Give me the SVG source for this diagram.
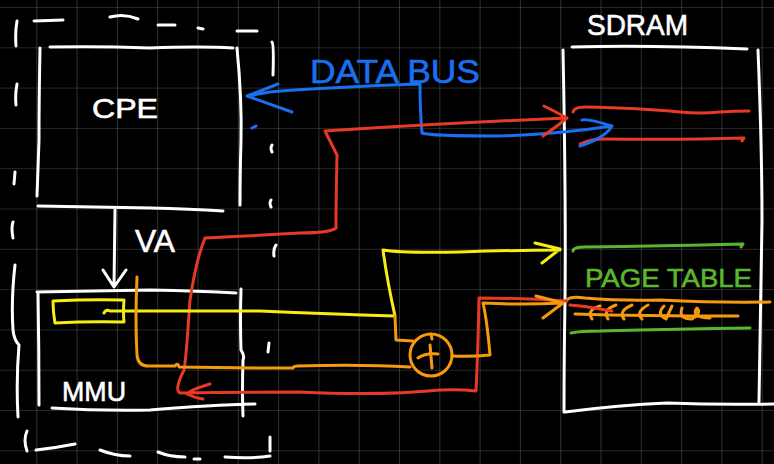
<svg xmlns="http://www.w3.org/2000/svg" width="774" height="464" viewBox="0 0 774 464">
<style>
.w{fill:none;stroke:#ffffff;stroke-width:3;stroke-linecap:round;stroke-linejoin:round}
.b{fill:none;stroke:#1a6ff0;stroke-width:3;stroke-linecap:round;stroke-linejoin:round}
.r{fill:none;stroke:#e63a26;stroke-width:3;stroke-linecap:round;stroke-linejoin:round}
.y{fill:none;stroke:#f7ec14;stroke-width:3;stroke-linecap:round;stroke-linejoin:round}
.o{fill:none;stroke:#f59a0c;stroke-width:3;stroke-linecap:round;stroke-linejoin:round}
.g{fill:none;stroke:#5cb530;stroke-width:3;stroke-linecap:round;stroke-linejoin:round}
.t{font-family:"Liberation Sans",Arial,sans-serif;font-weight:normal;stroke-width:0.6}
</style>
<defs>
<pattern id="grid" patternUnits="userSpaceOnUse" x="36.3" y="7" width="40.3" height="40.3">
<path d="M0 0H40.3M0 0V40.3" stroke="#505050" stroke-width="1.2" fill="none"/>
</pattern>
</defs>
<rect width="774" height="464" fill="#000000"/>
<rect width="774" height="464" fill="url(#grid)"/>

<g id="outer-bracket">
<path class="w" d="M17 21Q15 32 16 46M34 21L63 20M110 17Q124 13 138 19M158 25L175 25M198 28L203 29M237 31L257 31M272 42Q274 44 273 75M17 84Q15 94 16 105M15 172L14 184M13 222Q11 228 13 238M15 265Q11 300 13 330Q14 340 19 345Q16 380 18 417M27 431Q23 440 27 451M36 450Q55 448 75 444M100 450Q115 456 130 456M158 452Q170 457 185 457M194 459L200 459M225 457Q250 459 270 456M270 437L270 451M272 145Q270 148 272 152M271 200Q269 203 271 207M276 245Q273 249 274 256M269 343L268 352"/>
</g>

<g id="cpe">
<path class="w" d="M40 48Q39 100 39 140Q38 170 37 196M50 47Q100 46 150 48Q200 46 233 48M237 48Q242 100 241 140Q240 175 240 205M38 206Q100 207 150 208Q190 209 223 211"/>
<text class="t" x="92" y="118" font-size="28" fill="#ffffff" stroke="#ffffff" textLength="66" lengthAdjust="spacingAndGlyphs">CPE</text>
</g>

<g id="mmu">
<path class="w" d="M37 292Q100 291 150 290Q200 291 236 293M38 293Q39 350 39 405M241 289Q240 320 241 350Q245 356 243 360Q242 390 243 416M52 408Q100 411 150 410Q210 405 255 404"/>
<text class="t" x="62" y="401" font-size="28" fill="#ffffff" stroke="#ffffff" textLength="64" lengthAdjust="spacingAndGlyphs">MMU</text>
</g>

<g id="sdram">
<path class="w" d="M572 47Q650 45 747 49M563 50Q566 200 565 300Q564 360 564 412M758 50Q762 150 762 220Q760 320 759 402M565 412Q620 405 667 403Q720 405 774 404"/>
<text class="t" x="587" y="35" font-size="30" fill="#ffffff" stroke="#ffffff" textLength="101" lengthAdjust="spacingAndGlyphs">SDRAM</text>
<path class="r" d="M573 112Q574 107 585 107Q640 108 680 112Q700 114 720 112Q735 111 749 111M580 144Q590 139 605 139Q680 140 744 138L742 141"/>
<path class="g" d="M573 251Q573 247 585 247Q660 246 743 244L741 247M571 333Q580 331 600 331Q680 329 750 328"/>
<text class="t" x="585" y="287" font-size="26" fill="#5cb530" stroke="#5cb530" textLength="167" lengthAdjust="spacingAndGlyphs">PAGE TABLE</text>
<path class="o" d="M568 299Q572 296 585 298Q620 301 660 300Q720 303 770 302M575 314Q640 316 738 316"/>
<path class="o" d="M600 306Q586 310 592 319M616 305Q602 310 608 319M632 305Q618 311 624 319M648 305Q635 312 642 319M664 306Q656 314 666 319L672 306M682 308Q678 319 692 319Q702 313 697 308Q690 317 710 318"/>
<path class="r" d="M570 305Q585 306 600 309L612 311"/>
</g>

<g id="connectors">
<path class="w" d="M115 210L114 287M103 270L114 287L126 270"/>
<text class="t" x="135" y="252" font-size="32" fill="#ffffff" stroke="#ffffff" textLength="40" lengthAdjust="spacingAndGlyphs">VA</text>

<text class="t" x="310" y="83" font-size="34" fill="#1a6ff0" stroke="#1a6ff0" textLength="170" lengthAdjust="spacingAndGlyphs">DATA BUS</text>
<path class="b" d="M420 84Q380 85 330 88Q290 90 270 92L247 96M278 84L247 96L292 112M420 84Q420 110 422 133Q430 136 500 136Q560 134 612 126M582 120Q586 118 612 126Q605 138 580 146M252 128L256 126"/>

<path class="r" d="M567 118Q500 121 480 122Q400 126 325 131Q332 145 337 155Q336 200 336 228Q330 233 300 233Q250 236 205 238Q196 260 190 300Q186 360 184 370Q174 390 180 393Q240 392 300 392Q380 396 440 390Q460 389 476 391Q478 350 479 298Q520 298 567 301M544 106Q556 112 567 118Q555 128 543 136M210 384Q190 390 187 394Q195 398 203 399"/>

<path class="y" d="M53 301Q90 299 124 300Q123 312 124 322Q90 321 55 323Q53 312 53 301M104 313Q106 309 110 311Q200 311 260 311Q330 314 395 316Q387 280 383 250Q400 253 460 252Q520 250 560 250M535 243L560 249L542 263"/>

<path class="o" d="M137 277Q135 320 137 355Q138 366 148 366Q170 366 175 366Q178 362 179 367Q230 368 293 368Q294 366 297 366Q360 364 410 367"/>
<circle class="o" cx="431" cy="355" r="21"/>
<path class="o" d="M418 358Q425 353 438 354M430 345L432 368M431 334L432 339M413 341L396 340L395 316M452 356Q470 357 490 355Q487 320 483 303Q520 305 563 303M536 296L563 303L543 318"/>
</g>
</svg>
